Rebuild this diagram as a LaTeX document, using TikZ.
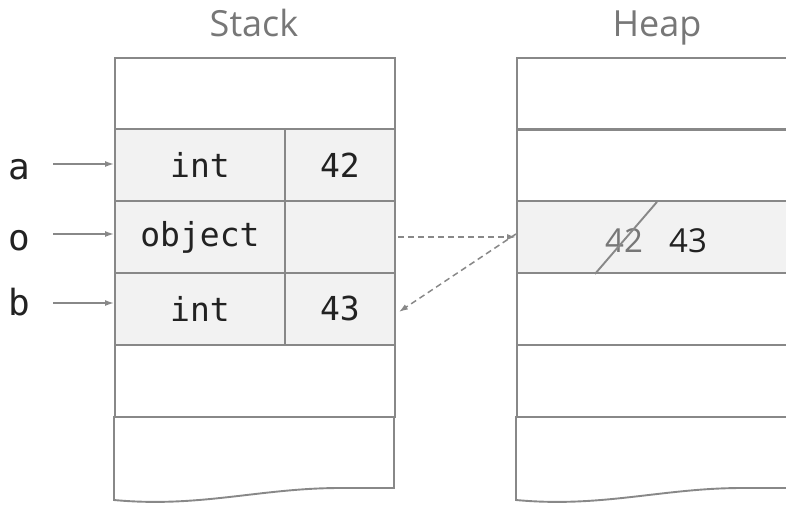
\documentclass[tikz,border=0pt]{standalone}
\usepackage{fontspec}
\setmonofont{DejaVu Sans Mono}
\setsansfont{Open Sans}
\usetikzlibrary{arrows.meta}
\definecolor{cellline}{HTML}{888888}
\definecolor{cellfill}{HTML}{F2F2F2}
\definecolor{titlegray}{HTML}{777777}
\definecolor{ink}{HTML}{222222}
\tikzset{
  cell/.style={draw=cellline, line width=1.9pt, rectangle, inner sep=0pt, anchor=north west,
    minimum height=72pt, font=\ttfamily\fontsize{33}{33}\selectfont, text=ink},
  full/.style={cell, minimum width=280pt},
  left/.style={cell, minimum width=170pt, fill=cellfill},
  right/.style={cell, minimum width=110pt, fill=cellfill},
  heaprow/.style={cell, minimum width=300pt},
  title/.style={font=\sffamily\fontsize{36}{36}\selectfont, text=titlegray, anchor=base},
  heapval/.style={font=\sffamily\fontsize{33}{33}\selectfont, anchor=base},
  varlabel/.style={font=\ttfamily\fontsize{36}{36}\selectfont, text=ink, anchor=base},
  ptr/.style={draw=cellline, line width=1.5pt, -{Latex[length=9pt,width=6pt]}},
  dptr/.style={ptr, dash pattern=on 6pt off 4pt}
}
\begin{document}
\begin{tikzpicture}[x=1pt,y=-1pt]
\useasboundingbox (0,0) rectangle (786,504);
\clip (0,0) rectangle (786,504);
% titles
\node[title] (tstack) at (254,36) {Stack};
\node[title] (theap) at (657,36) {Heap};
% stack
\node[full] (s0) at (114,57) {};
\node[left] (s1a) at (114,128) {int};
\node[right] (s1b) at (284,128) {42};
\node[left] (s2a) at (114,200) {object};
\node[right] (s2b) at (284,200) {};
\node[left] (s3a) at (114,272) {int};
\node[right] (s3b) at (284,272) {43};
\node[full] (s4) at (114,344) {};
\draw[draw=cellline, line width=1.9pt] (114,416) -- (114,500) .. controls (200,508) and (260,488) .. (340,488) -- (394,488) -- (394,416);
% heap
\node[heaprow] (h0) at (516,57) {};
\node[heaprow] (h1) at (516,128) {};
\node[heaprow, fill=cellfill] (h2) at (516,200) {};
\node[heaprow] (h3) at (516,272) {};
\node[heaprow] (h4) at (516,344) {};
\draw[draw=cellline, line width=1.9pt] (516,416) -- (516,500) .. controls (602,508) and (662,488) .. (742,488) -- (816,488);
\node[heapval, text=titlegray] (old) at (624,252) {42};
\node[heapval, text=ink] (new) at (688,252) {43};
\draw[draw=cellline, line width=1.9pt] (h2.south west) ++(79,0) coordinate (sa) -- ++(62,-72) coordinate (sb);
% variable labels
\node[varlabel] (la) at (19,179) {a};
\node[varlabel] (lo) at (19,250) {o};
\node[varlabel] (lb) at (19,315) {b};
\draw[ptr] (53,164) -- (114,164);
\draw[ptr] (53,234) -- (114,234);
\draw[ptr] (53,303) -- (114,303);
% pointers
\draw[dptr] (s2b.east) ++(2,0) -- (h2.west);
\draw[dptr] ([yshift=3pt]h2.west) -- ([xshift=3pt,yshift=-3pt]s3b.east);
\end{tikzpicture}
\end{document}
